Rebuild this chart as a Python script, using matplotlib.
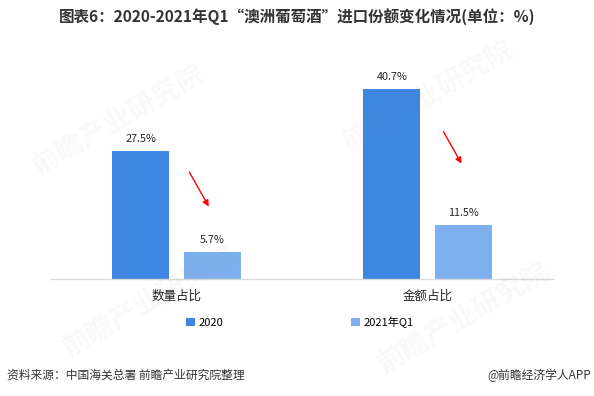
import numpy as np
import matplotlib.pyplot as plt

plt.rcParams['font.family'] = ['Noto Sans CJK SC', 'DejaVu Sans']

# data
categories = ['数量占比', '金额占比']
series_names = ['2020', '2021年Q1']
values_2020 = [27.5, 40.7]
values_2021q1 = [5.7, 11.5]
colors = ['#3f86e0', '#7eb0ef']

# arrows (x start, y start, x end, y end) in data units
arrows = [(0.046, 23.4, 0.134, 15.0),
          (1.058, 32.1, 1.141, 24.2)]

fig = plt.figure(figsize=(5.94, 3.96), dpi=100)
ax = fig.add_axes([51/594, 1-279/396, 502/594, 210/396])

x = np.arange(len(categories))
w = 0.227
off = 0.142
b1 = ax.bar(x - off, values_2020, w, color=colors[0], label=series_names[0], zorder=2)
b2 = ax.bar(x + off, values_2021q1, w, color=colors[1], label=series_names[1], zorder=2)

for bars in (b1, b2):
    for r in bars:
        ax.annotate(f'{r.get_height():.1f}%', (r.get_x() + r.get_width()/2, r.get_height()),
                    xytext=(0, 5), textcoords='offset points', ha='center', va='bottom',
                    fontsize=7.8, color='#222222')

for x0, y0, x1, y1 in arrows:
    ax.annotate('', xy=(x1, y1), xytext=(x0, y0),
                arrowprops=dict(arrowstyle='-|>', color='#ff0000', lw=1, mutation_scale=9))

ax.set_xlim(-0.5, 1.5)
ax.set_ylim(0, 45)
ax.set_xticks(x)
ax.set_xticklabels(categories, fontsize=9, color='#222222')
ax.tick_params(axis='x', length=0, pad=8)
ax.set_yticks([])
for s in ['top', 'right', 'left']:
    ax.spines[s].set_visible(False)
ax.spines['bottom'].set_color('#d9d9d9')
ax.spines['bottom'].set_linewidth(1)

# faint watermarks
for wx, wy in [(0.2, 0.7), (0.72, 0.76), (0.25, 0.24), (0.78, 0.2)]:
    fig.text(wx, wy, '前瞻产业研究院', fontsize=20, fontweight='bold', color='#888888',
             alpha=0.05, rotation=30, ha='center', va='center', zorder=5)

fig.legend(loc='center', bbox_to_anchor=(0.505, 1-322/396), ncol=2, frameon=False,
           fontsize=8, handlelength=0.8, handleheight=0.8, handletextpad=0.3,
           columnspacing=11.5)

fig.text(0.5, 1-18/396, '图表6：2020-2021年Q1“澳洲葡萄酒”进口份额变化情况(单位：%)',
         ha='center', va='center', fontsize=11.2, fontweight='bold', color='#333333')
fig.text(7/594, 1-375/396, '资料来源：中国海关总署 前瞻产业研究院整理',
         ha='left', va='center', fontsize=8.5, color='#333333')
fig.text(591/594, 1-375/396, '@前瞻经济学人APP',
         ha='right', va='center', fontsize=8.5, color='#333333')

fig.savefig('out.png', dpi=100)
